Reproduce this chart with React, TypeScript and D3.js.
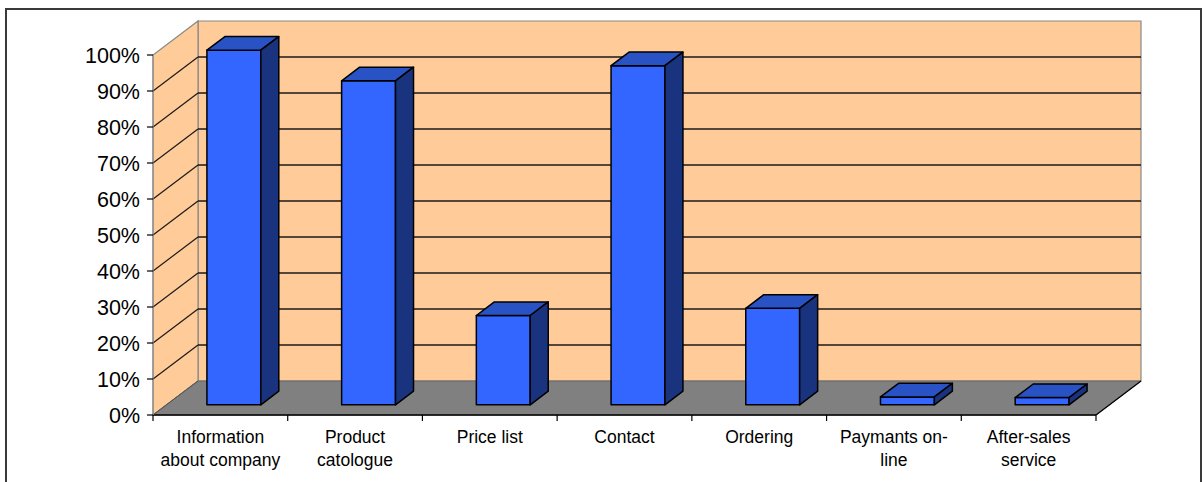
import React from "react";
import * as d3 from "d3";

const categories = [
  "Information about company",
  "Product catologue",
  "Price list",
  "Contact",
  "Ordering",
  "Paymants on-line",
  "After-sales service",
];
const labelLines = [
  ["Information", "about company"],
  ["Product", "catologue"],
  ["Price list"],
  ["Contact"],
  ["Ordering"],
  ["Paymants on-", "line"],
  ["After-sales", "service"],
];
const values = [0.985, 0.9, 0.248, 0.942, 0.268, 0.022, 0.02];
const yTicks = [0, 0.1, 0.2, 0.3, 0.4, 0.5, 0.6, 0.7, 0.8, 0.9, 1.0];

const W = 1202;
const H = 482;
const DX = 45;
const DY = 34;
const FONT = "'Liberation Sans', Arial, Helvetica, sans-serif";

export default function App() {
  const x = d3
    .scaleBand<string>()
    .domain(categories)
    .range([153, 1096])
    .paddingInner(0.6)
    .paddingOuter(0.3);
  const y = d3.scaleLinear().domain([0, 1]).range([415, 55]);
  const step = x.step();
  const bw = x.bandwidth();
  const x0 = 153;
  const x1 = 1096;
  const y0 = y(0);
  const y1 = y(1);
  const pts = (a: number[][]) => a.map((p) => p.join(",")).join(" ");

  const d0 = 0.3;
  const d1 = 0.7;
  const fx = DX * d0,
    fy = DY * d0,
    bx = DX * d1,
    by = DY * d1;

  return (
    <div style={{ position: "absolute", left: 0, top: 0 }}>
      <svg width={W} height={H} style={{ display: "block" }}>
        <rect x={0} y={0} width={W} height={H} fill="#fff" />
        <rect x={6} y={9} width={1195} height={520} fill="none" stroke="#3a3a3a" strokeWidth={2} />
        {/* back wall */}
        <polygon
          points={pts([
            [x0 + DX, y1 - DY],
            [x1 + DX, y1 - DY],
            [x1 + DX, y0 - DY],
            [x0 + DX, y0 - DY],
          ])}
          fill="#FFCC99"
          stroke="#888"
          strokeWidth={1.2}
        />
        {/* side wall */}
        <polygon
          points={pts([
            [x0, y0],
            [x0, y1],
            [x0 + DX, y1 - DY],
            [x0 + DX, y0 - DY],
          ])}
          fill="#FFCC99"
          stroke="#888"
          strokeWidth={1.2}
        />
        {/* floor */}
        <polygon
          points={pts([
            [x0, y0],
            [x1, y0],
            [x1 + DX, y0 - DY],
            [x0 + DX, y0 - DY],
          ])}
          fill="#808080"
          stroke="#666"
          strokeWidth={1}
        />
        {/* gridlines */}
        {yTicks
          .filter((t) => t > 0 && t < 1)
          .map((t) => (
            <g key={"g" + t}>
              <line x1={x0 + DX} x2={x1 + DX} y1={y(t) - DY} y2={y(t) - DY} stroke="#1a1a1a" strokeWidth={1.3} />
              <line x1={x0} x2={x0 + DX} y1={y(t)} y2={y(t) - DY} stroke="#1a1a1a" strokeWidth={1.2} />
            </g>
          ))}
        {/* floor front edge and right edge */}
        <line x1={x0} x2={x1} y1={y0} y2={y0} stroke="#000" strokeWidth={1.5} />
        <line x1={x1} x2={x1 + DX} y1={y0} y2={y0 - DY} stroke="#000" strokeWidth={1.2} />
        <line x1={x0} x2={x0 + DX} y1={y0} y2={y0 - DY} stroke="#555" strokeWidth={1} />
        {/* y axis */}
        <line x1={x0} x2={x0} y1={y0} y2={y1} stroke="#888" strokeWidth={1} />
        {yTicks.map((t) => (
          <g key={"t" + t}>
            <line x1={x0 - 6} x2={x0} y1={y(t)} y2={y(t)} stroke="#000" strokeWidth={1.2} />
            <text
              x={140}
              y={y(t) + 2}
              textAnchor="end"
              dominantBaseline="middle"
              fontFamily={FONT}
              fontSize={21.5}
              fill="#000"
            >
              {Math.round(t * 100) + "%"}
            </text>
          </g>
        ))}
        {/* category ticks */}
        {d3.range(categories.length + 1).map((i) => (
          <line
            key={"c" + i}
            x1={x0 + i * step}
            x2={x0 + i * step}
            y1={y0}
            y2={y0 + 6}
            stroke="#000"
            strokeWidth={1.2}
          />
        ))}
        {/* bars */}
        {categories.map((c, i) => {
          const bx0 = x(c) as number;
          const bx1 = bx0 + bw;
          const yt = y(values[i]);
          return (
            <g key={c} stroke="#000" strokeWidth={1.5} strokeLinejoin="round">
              <rect x={bx0 + fx} y={yt - fy} width={bw} height={y0 - yt} fill="#3366FF" />
              <polygon
                points={pts([
                  [bx0 + fx, yt - fy],
                  [bx1 + fx, yt - fy],
                  [bx1 + bx, yt - by],
                  [bx0 + bx, yt - by],
                ])}
                fill="#2952C4"
              />
              <polygon
                points={pts([
                  [bx1 + fx, yt - fy],
                  [bx1 + bx, yt - by],
                  [bx1 + bx, y0 - by],
                  [bx1 + fx, y0 - fy],
                ])}
                fill="#1A337F"
              />
            </g>
          );
        })}
        {/* category labels */}
        {categories.map((c, i) => {
          const cx = x0 + (i + 0.5) * step;
          return (
            <text key={"l" + c} textAnchor="middle" fontFamily={FONT} fontSize={17.5} fill="#000">
              {labelLines[i].map((ln, j) => (
                <tspan key={j} x={cx} y={443 + j * 23}>
                  {ln}
                </tspan>
              ))}
            </text>
          );
        })}
      </svg>
    </div>
  );
}
